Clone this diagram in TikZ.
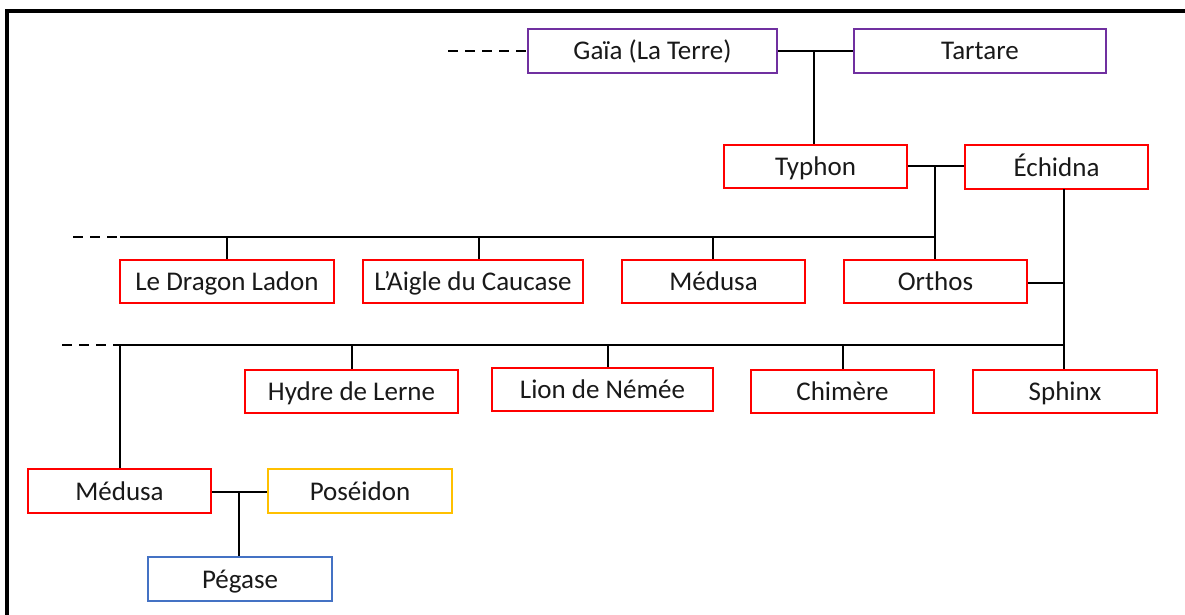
\documentclass[tikz,border=0pt]{standalone}
\usepackage{fontspec}
\setmainfont{Carlito}
\definecolor{cred}{HTML}{FF0000}
\definecolor{cpurple}{HTML}{7030A0}
\definecolor{cyellow}{HTML}{FFC000}
\definecolor{cblue}{HTML}{4472C4}
\begin{document}
\begin{tikzpicture}[x=1pt,y=-1pt,
  box/.style={draw, line width=2pt, minimum height=43pt, inner sep=0pt, text height=22pt, text depth=4pt, font=\fontsize{27}{32}\selectfont, text=black!90},
  redbox/.style={box, draw=cred},
  purplebox/.style={box, draw=cpurple},
  yellowbox/.style={box, draw=cyellow},
  bluebox/.style={box, draw=cblue},
  link/.style={draw=black, line width=2pt},
  dashlink/.style={link, dash pattern=on 10pt off 7pt},
  frame/.style={draw=black, line width=4pt}]
\useasboundingbox (0,0) rectangle (1185,615);
\fill[white] (0,0) rectangle (1185,615);
\draw[frame] (7,615) -- (7,11) -- (1185,11);

% generation 1
\node[purplebox, minimum width=249pt, minimum height=44pt] (gaia) at (652.5,51) {Gaïa (La Terre)};
\node[purplebox, minimum width=252pt, minimum height=44pt] (tartare) at (980,51) {Tartare};
% generation 2
\node[redbox, minimum width=183pt] (typhon) at (815.5,166.5) {Typhon};
\node[redbox, minimum width=183pt, minimum height=44pt] (echidna) at (1056.5,167) {Échidna};
% generation 3
\node[redbox, minimum width=214pt] (ladon) at (227,281.5) {Le Dragon Ladon};
\node[redbox, minimum width=220pt] (aigle) at (473,281.5) {L’Aigle du Caucase};
\node[redbox, minimum width=183pt] (medusa) at (713.5,281.5) {Médusa};
\node[redbox, minimum width=183pt] (orthos) at (935.5,281.5) {Orthos};
% generation 4
\node[redbox, minimum width=213pt] (hydre) at (351.5,391) {Hydre de Lerne};
\node[redbox, minimum width=221pt] (lion) at (602.5,389.5) {Lion de Némée};
\node[redbox, minimum width=183pt] (chimere) at (842.5,391) {Chimère};
\node[redbox, minimum width=184pt] (sphinx) at (1065,391.5) {Sphinx};
% Medusa family
\node[redbox, minimum width=183pt, minimum height=44pt] (medusab) at (119.5,491) {Médusa};
\node[yellowbox, minimum width=184pt, minimum height=44pt] (poseidon) at (360,491) {Poséidon};
\node[bluebox, minimum width=184pt, minimum height=44pt] (pegase) at (240,579) {Pégase};

% coordinates
\coordinate (gdash) at (448,51);
\coordinate (m1) at (814,51);
\coordinate (m2) at (935,166);
\coordinate (l1) at (120,237);
\coordinate (l1d) at (73,237);
\coordinate (l1r) at (935,237);
\coordinate (e1) at (1064,189);
\coordinate (e2) at (1064,283);
\coordinate (l2) at (120,345);
\coordinate (l2d) at (62,345);
\coordinate (l2r) at (1064,345);
\coordinate (m3) at (239,492);

% connectors
\draw[dashlink] (gdash) -- (gaia.west);
\draw[link] (gaia.east) -- (tartare.west);
\draw[link] (m1) -- (m1 |- typhon.north);
\draw[link] (typhon.east |- m2) -- (echidna.west |- m2);
\draw[link] (m2) -- (m2 |- orthos.north);
\draw[dashlink] (l1d) -- (l1);
\draw[link] (l1) -- (l1r);
\draw[link] (227,237) -- (ladon.north);
\draw[link] (479,237) -- (479,0 |- aigle.north);
\draw[link] (713,237) -- (713,0 |- medusa.north);
\draw[link] (e1) -- (e1 |- sphinx.north);
\draw[link] (orthos.east |- e2) -- (e2);
\draw[dashlink] (l2d) -- (l2);
\draw[link] (l2) -- (l2r);
\draw[link] (l2) -- (l2 |- medusab.north);
\draw[link] (352,345) -- (352,0 |- hydre.north);
\draw[link] (608,345) -- (608,0 |- lion.north);
\draw[link] (843,345) -- (843,0 |- chimere.north);
\draw[link] (medusab.east |- m3) -- (poseidon.west |- m3);
\draw[link] (m3) -- (m3 |- pegase.north);
\end{tikzpicture}
\end{document}
